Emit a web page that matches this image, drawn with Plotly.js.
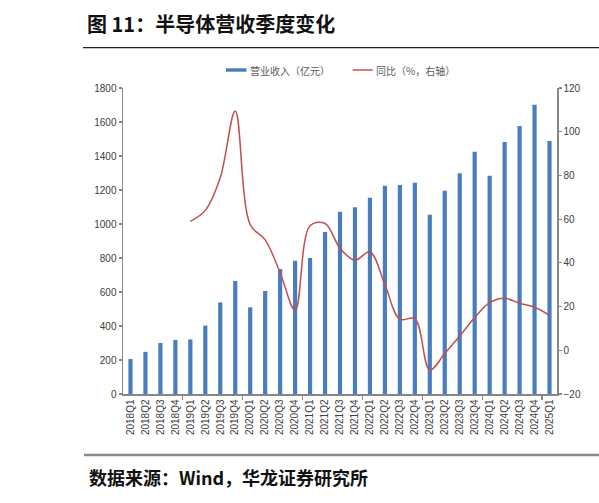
<!DOCTYPE html>
<html>
<head>
<meta charset="utf-8">
<script src="https://cdn.plot.ly/plotly-3.0.1.min.js"></script>
<style>
  html, body { margin: 0; padding: 0; background: #fff; }
  #chart { width: 599px; height: 503px; }
</style>
</head>
<body>
<div id="chart"></div>
<script>
// ---- data ----
const categories = ["2018Q1","2018Q2","2018Q3","2018Q4","2019Q1","2019Q2","2019Q3","2019Q4",
  "2020Q1","2020Q2","2020Q3","2020Q4","2021Q1","2021Q2","2021Q3","2021Q4",
  "2022Q1","2022Q2","2022Q3","2022Q4","2023Q1","2023Q2","2023Q3","2023Q4",
  "2024Q1","2024Q2","2024Q3","2024Q4","2025Q1"];
const revenue = [206, 248, 300, 318, 321, 402, 539, 665,
  510, 606, 735, 784, 800, 953, 1072, 1098,
  1155, 1225, 1229, 1243, 1055, 1196, 1298, 1425,
  1284, 1482, 1576, 1702, 1488];
const yoy = [null, null, null, null, 59, 64, 79, 109.5,
  57.5, 50.5, 35.5, 18.3, 57, 58, 46.7, 41.2,
  45, 30, 14.2, 14.5, -9, -1.5, 6.5, 15,
  21.8, 23.8, 21.5, 19.7, 16];
const leftTicks = [0, 200, 400, 600, 800, 1000, 1200, 1400, 1600, 1800];
const rightTicks = [-20, 0, 20, 40, 60, 80, 100, 120];
const seriesNames = ["营业收入（亿元）", "同比（%，右轴）"];
const titleText = "图 11：半导体营收季度变化";
const sourceText = "数据来源：Wind，华龙证券研究所";

// ---- layout helpers ----
const W = 599, H = 503;
const M = { l: 123, r: 42, t: 88, b: 109 };
const PW = W - M.l - M.r, PH = H - M.t - M.b;
const px = x => (x - M.l) / PW;
const py = y => (H - M.b - y) / PH;

const idx = categories.map((c, i) => i);
const boundaries = idx.filter(i => i % 4 === 3 && i < categories.length - 1).map(i => i + 0.5);

const BLUE = "#4a7dbd", RED = "#c0504d", AX = "#868686";
const tickFont = { family: "Liberation Sans, Arial, sans-serif", size: 10, color: "#404040" };
const cjk = "Noto Sans CJK SC, sans-serif";

const traces = [
  { type: "bar", x: idx, y: revenue, name: seriesNames[0], marker: { color: BLUE },
    width: 0.28, yaxis: "y", showlegend: false, hoverinfo: "skip" },
  { type: "scatter", mode: "lines", x: idx, y: yoy, name: seriesNames[1], yaxis: "y2",
    line: { color: RED, width: 1.5, shape: "spline", smoothing: 1 },
    connectgaps: false, showlegend: false, hoverinfo: "skip" }
];

const layout = {
  width: W, height: H,
  margin: M,
  paper_bgcolor: "#fff", plot_bgcolor: "#fff",
  title: { text: "<b>" + titleText + "</b>", xref: "container", yref: "container",
    x: 87 / W, xanchor: "left", y: 1 - 25 / H, yanchor: "middle",
    font: { family: cjk, size: 20, color: "#111" } },
  xaxis: {
    type: "linear", range: [-0.5, categories.length - 0.5],
    tickmode: "array", tickvals: idx, ticktext: categories, tickangle: -90,
    ticks: "", showgrid: false, zeroline: false,
    showline: true, linecolor: AX, linewidth: 1.5,
    tickfont: tickFont,
    minor: { tickmode: "array", tickvals: boundaries, ticks: "outside", ticklen: 4,
      tickcolor: AX, tickwidth: 1.2, showgrid: false }
  },
  yaxis: {
    range: [leftTicks[0], leftTicks[leftTicks.length - 1]],
    tickmode: "array", tickvals: leftTicks,
    ticks: "outside", ticklen: 3, tickcolor: AX, tickwidth: 1.2,
    showline: true, linecolor: AX, linewidth: 1.5,
    showgrid: false, zeroline: false, tickfont: tickFont
  },
  yaxis2: {
    overlaying: "y", side: "right",
    range: [rightTicks[0], rightTicks[rightTicks.length - 1]],
    tickmode: "array", tickvals: rightTicks,
    ticks: "outside", ticklen: 3, tickcolor: AX, tickwidth: 1.2,
    showline: true, linecolor: AX, linewidth: 1.5,
    showgrid: false, zeroline: false, tickfont: tickFont
  },
  showlegend: false,
  shapes: [
    { type: "line", xref: "paper", yref: "paper", x0: px(83), x1: px(605), y0: py(47.7), y1: py(47.7),
      line: { color: "#222", width: 1.2 } },
    { type: "line", xref: "paper", yref: "paper", x0: px(84), x1: px(605), y0: py(455), y1: py(455),
      line: { color: "#8a8a8a", width: 2.5 } },
    { type: "rect", xref: "paper", yref: "paper", x0: px(226), x1: px(246.5), y0: py(71.7), y1: py(68.3),
      fillcolor: BLUE, line: { width: 0 } },
    { type: "line", xref: "paper", yref: "paper", x0: px(352.7), x1: px(372.7), y0: py(70), y1: py(70),
      line: { color: RED, width: 1.5 } }
  ],
  annotations: [
    { xref: "paper", yref: "paper", x: px(247.5), y: py(70), xanchor: "left", yanchor: "middle",
      text: seriesNames[0], showarrow: false, font: { family: cjk, size: 10, color: "#595959" } },
    { xref: "paper", yref: "paper", x: px(374), y: py(70), xanchor: "left", yanchor: "middle",
      text: seriesNames[1], showarrow: false, font: { family: cjk, size: 10, color: "#595959" } },
    { xref: "paper", yref: "paper", x: px(87), y: py(476.5), xanchor: "left", yanchor: "middle",
      text: "<b>" + sourceText + "</b>", showarrow: false, font: { family: cjk, size: 18, color: "#111" } }
  ]
};

Plotly.newPlot("chart", traces, layout, { displayModeBar: false, staticPlot: true });
</script>
</body>
</html>
